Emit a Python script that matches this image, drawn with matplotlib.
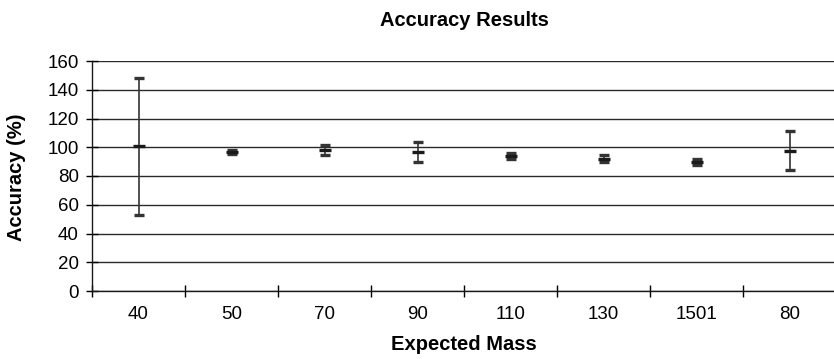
import matplotlib
matplotlib.use("Agg")
import matplotlib.pyplot as plt
import numpy as np

plt.rcParams['font.family'] = ['Liberation Sans', 'DejaVu Sans']

categories = ["40", "50", "70", "90", "110", "130", "1501", "80"]
means = [101, 96.5, 98, 97, 94, 92, 90, 97.5]
lower = [53, 95, 94.5, 90, 92, 89.5, 88, 84]
upper = [148, 98, 101.5, 103.5, 96, 94.5, 92, 111]

fig = plt.figure(figsize=(8.34, 3.59), dpi=100)
ax = fig.add_axes([92/834, 1 - 291/359, (836 - 92)/834, (291 - 61)/359])

x = np.arange(len(categories))
m = np.array(means)
yerr = np.vstack([m - np.array(lower), np.array(upper) - m])
ax.errorbar(x, m, yerr=yerr, fmt='_', color='#1a1a1a', ecolor='#333333',
            elinewidth=1.2, capsize=3.5, capthick=2.4, markersize=8,
            markeredgewidth=2.4, zorder=3)

ax.set_xlim(-0.5, len(categories) - 0.5)
ax.set_ylim(0, 160)
ax.set_yticks(np.arange(0, 161, 20))
ax.set_xticks(x)
ax.set_xticklabels(categories)
ax.set_xticks(np.arange(-0.5, len(categories), 1), minor=True)
ax.tick_params(axis='x', which='major', length=0, labelsize=13.5, pad=11)
ax.tick_params(axis='x', which='minor', length=9, width=1, direction='inout')
ax.tick_params(axis='y', length=9, width=1, direction='inout', labelsize=13.5, pad=5)

ax.yaxis.grid(True, color='#2a2a2a', linewidth=1)
ax.set_axisbelow(True)
for s in ['top', 'right']:
    ax.spines[s].set_visible(False)
for s in ['left', 'bottom']:
    ax.spines[s].set_linewidth(1)
    ax.spines[s].set_color('#1a1a1a')

fig.text(464/834, 1 - 21/359, "Accuracy Results", ha='center', va='center',
         fontsize=14.5, fontweight='bold')
fig.text(464/834, 1 - 345/359, "Expected Mass", ha='center', va='center',
         fontsize=14.5, fontweight='bold')
fig.text(17/834, 1 - 177/359, "Accuracy (%)", ha='center', va='center',
         rotation=90, fontsize=14.5, fontweight='bold')

fig.savefig("out.png", dpi=100)
